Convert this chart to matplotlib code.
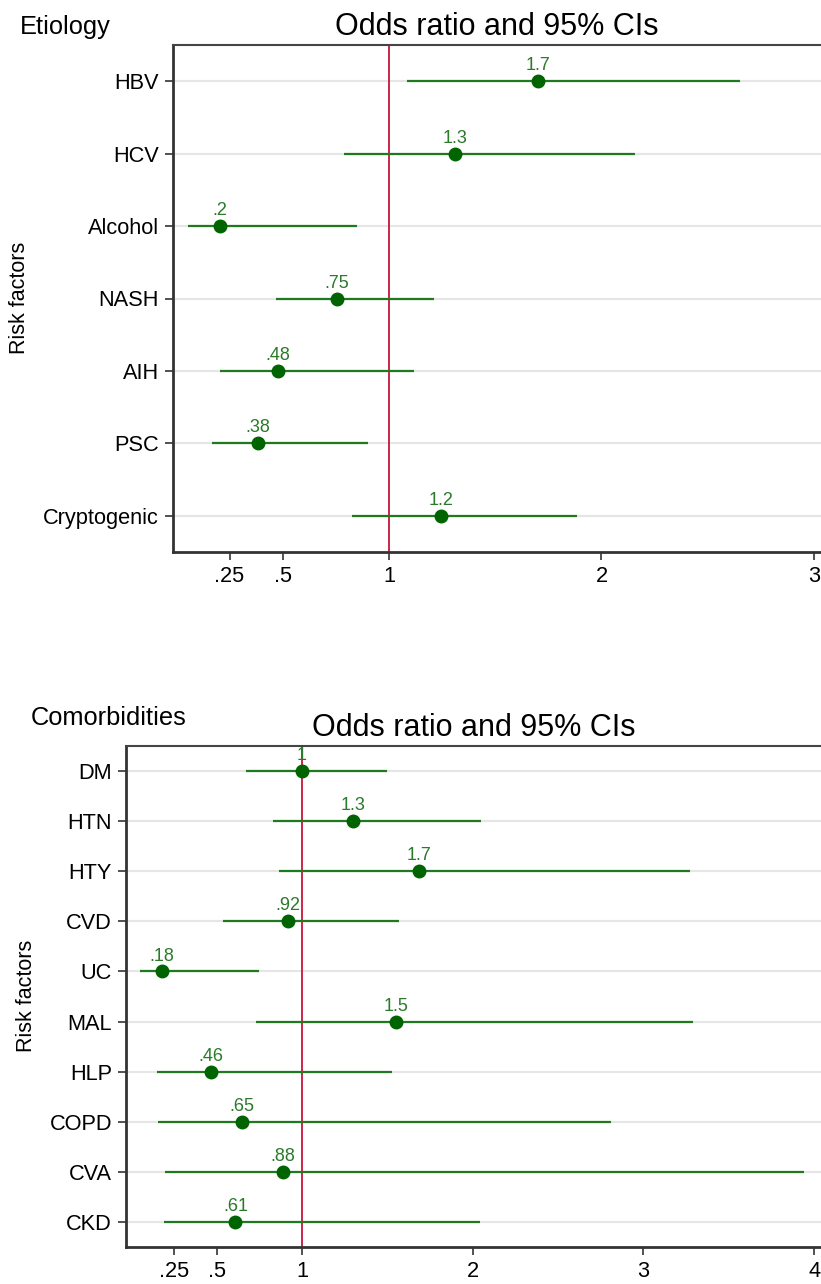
import matplotlib
matplotlib.use("Agg")
import matplotlib.pyplot as plt
import numpy as np

plt.rcParams['font.family'] = ['Liberation Sans', 'DejaVu Sans']

# Etiology panel
etio_names = ["HBV", "HCV", "Alcohol", "NASH", "AIH", "PSC", "Cryptogenic"]
etio_or = [1.70, 1.31, 0.205, 0.755, 0.478, 0.384, 1.245]
etio_lo = [1.085, 0.79, 0.054, 0.47, 0.205, 0.167, 0.826]
etio_hi = [2.65, 2.16, 0.85, 1.21, 1.12, 0.90, 1.885]
etio_lab = ["1.7", "1.3", ".2", ".75", ".48", ".38", "1.2"]

# Comorbidities panel
como_names = ["DM", "HTN", "HTY", "CVD", "UC", "MAL", "HLP", "COPD", "CVA", "CKD"]
como_or = [1.0, 1.30, 1.685, 0.92, 0.18, 1.55, 0.465, 0.65, 0.89, 0.61]
como_lo = [0.67, 0.83, 0.865, 0.54, 0.05, 0.73, 0.15, 0.155, 0.20, 0.19]
como_hi = [1.50, 2.05, 3.27, 1.57, 0.75, 3.29, 1.53, 2.81, 3.94, 2.04]
como_lab = ["1", "1.3", "1.7", ".92", ".18", "1.5", ".46", ".65", ".88", ".61"]

top_ticks = [0.25, 0.5, 1, 2, 3]
top_ticklab = [".25", ".5", "1", "2", "3"]
bot_ticks = [0.25, 0.5, 1, 2, 3, 4]
bot_ticklab = [".25", ".5", "1", "2", "3", "4"]

W, H = 821, 1284
fig = plt.figure(figsize=(W / 100, H / 100), dpi=100)


def px_box(l, t, r, b):
    return [l / W, 1 - b / H, (r - l) / W, (b - t) / H]


def forest(ax, names, est, lo, hi, labs, ticks, ticklab, xlim):
    n = len(names)
    y = np.arange(1, n + 1)
    for yy in y:
        ax.axhline(yy, color="#e6e6e6", lw=1.5, zorder=0)
    ax.axvline(1, color="#c8143c", lw=1.3, zorder=1)
    ax.hlines(y, lo, hi, color="#1f7a1f", lw=1.6, zorder=2)
    ax.plot(est, y, "o", color="#006400", ms=9, zorder=3)
    for xx, yy, s in zip(est, y, labs):
        ax.annotate(s, (xx, yy), xytext=(0, 5), textcoords="offset points",
                    ha="center", va="bottom", fontsize=13, color="#2a7a2a")
    ax.set_ylim(n + 0.5, 0.5)
    ax.set_xlim(*xlim)
    ax.set_yticks(y)
    ax.set_yticklabels(names, fontsize=15.7)
    ax.set_xticks(ticks)
    ax.set_xticklabels(ticklab, fontsize=15.7)
    ax.tick_params(axis="both", direction="out", length=6, width=1.2,
                   color="#333333", pad=4)
    for sp in ["left", "bottom"]:
        ax.spines[sp].set_linewidth(2)
        ax.spines[sp].set_color("#333333")
    ax.spines["top"].set_linewidth(1.5)
    ax.spines["top"].set_color("#444444")
    ax.spines["right"].set_visible(False)
    ax.set_title("Odds ratio and 95% CIs", fontsize=22, pad=7)


ax1 = fig.add_axes(px_box(173, 45, 821, 552))
forest(ax1, etio_names, etio_or, etio_lo, etio_hi, etio_lab,
       top_ticks, top_ticklab, (-0.016, 3.033))
fig.text(20 / W, 1 - 34 / H, "Etiology", fontsize=18.3, ha="left", va="baseline")
fig.text(20 / W, 1 - 298 / H, "Risk factors", fontsize=15.5, rotation=90,
         ha="center", va="center")

ax2 = fig.add_axes(px_box(126, 746, 821, 1247))
forest(ax2, como_names, como_or, como_lo, como_hi, como_lab,
       bot_ticks, bot_ticklab, (-0.031, 4.04))
fig.text(31 / W, 1 - 725 / H, "Comorbidities", fontsize=18.3, ha="left", va="baseline")
fig.text(27 / W, 1 - 996 / H, "Risk factors", fontsize=15.5, rotation=90,
         ha="center", va="center")

fig.savefig("out.png", dpi=100, facecolor="white")
